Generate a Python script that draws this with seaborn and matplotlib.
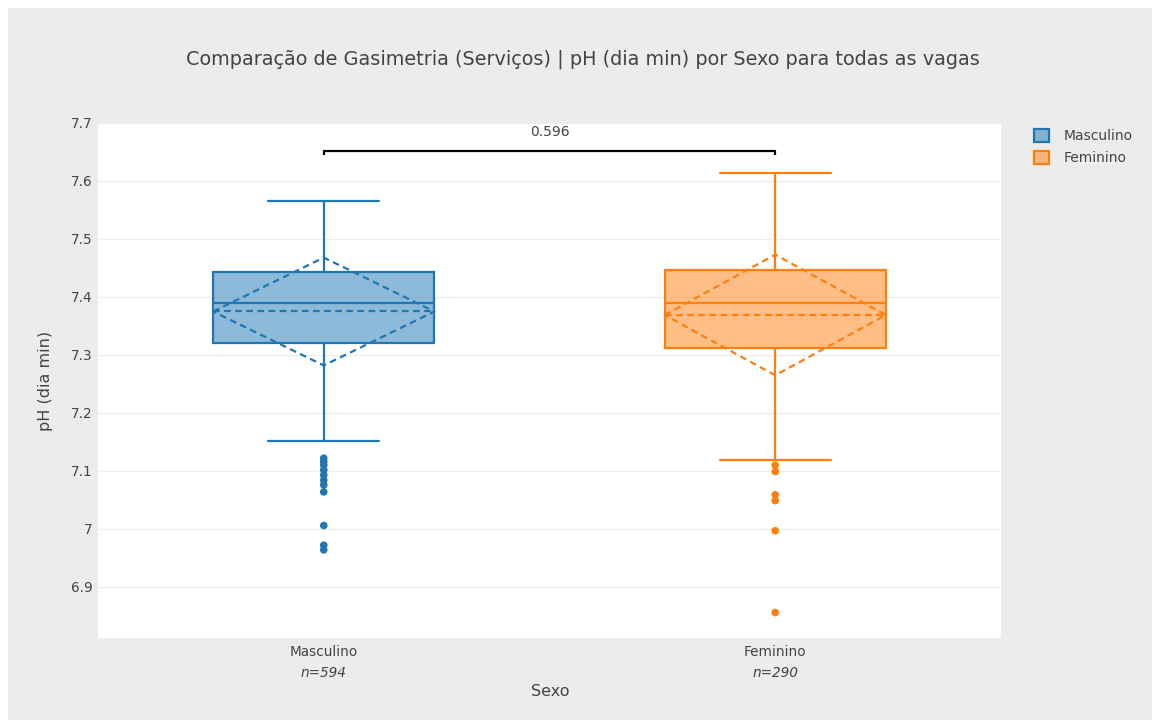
import numpy as np
import pandas as pd
import matplotlib
matplotlib.use("Agg")
import matplotlib.pyplot as plt
from matplotlib.patches import Patch, Rectangle
import seaborn as sns

# --- data -------------------------------------------------------------
categories = ["Masculino", "Feminino"]
counts = [594, 290]
colors = ["#1f77b4", "#ff7f0e"]

q1 = [7.320, 7.312]
median = [7.389, 7.389]
q3 = [7.443, 7.447]
whisker_low = [7.152, 7.119]
whisker_high = [7.566, 7.614]
mean = [7.375, 7.369]
sd = [0.093, 0.104]

outliers_masc = [7.122, 7.116, 7.110, 7.102, 7.093, 7.084, 7.076, 7.064,
                 7.006, 6.972, 6.964]
outliers_fem = [7.110, 7.099, 7.059, 7.049, 6.997, 6.856]

p_value_label = "0.596"
bracket_y = 7.652

title = "Comparação de Gasimetria (Serviços) | pH (dia min) por Sexo para todas as vagas"
y_label = "pH (dia min)"
x_label = "Sexo"
y_ticks = [6.9, 7.0, 7.1, 7.2, 7.3, 7.4, 7.5, 7.6, 7.7]
y_tick_labels = ["6.9", "7", "7.1", "7.2", "7.3", "7.4", "7.5", "7.6", "7.7"]

# --- figure -------------------------------------------------------------
sns.set_theme(style="white")
plt.rcParams["font.family"] = ["DejaVu Sans"]
text_color = "#444444"

W, H = 1152, 720
fig = plt.figure(figsize=(W / 100, H / 100), dpi=100, facecolor="white")
fig.patches.append(Rectangle((8 / W, 0), 1 - 8 / W, 1 - 8 / H,
                             transform=fig.transFigure, facecolor="#ececec",
                             edgecolor="none", zorder=-10))

left, right, top, bottom = 98, 1001, 123, 638
ax = fig.add_axes([left / W, 1 - bottom / H, (right - left) / W, (bottom - top) / H])
ax.set_facecolor("white")

box_width = 0.49
positions = np.arange(len(categories))

# boxes from summary statistics
stats = []
for i, cat in enumerate(categories):
    stats.append(dict(label=cat, q1=q1[i], med=median[i], q3=q3[i],
                      whislo=whisker_low[i], whishi=whisker_high[i],
                      mean=mean[i], fliers=[]))

for i, s in enumerate(stats):
    c = colors[i]
    ax.bxp([s], positions=[positions[i]], widths=box_width, patch_artist=True,
           showfliers=False, showmeans=False, capwidths=box_width / 2,
           boxprops=dict(facecolor=matplotlib.colors.to_rgba(c, 0.5), edgecolor=c, linewidth=1.6),
           medianprops=dict(color=c, linewidth=1.6),
           whiskerprops=dict(color=c, linewidth=1.6),
           capprops=dict(color=c, linewidth=1.6),
           manage_ticks=False)

    # mean ± sd diamond and mean line
    x0 = positions[i]
    hw = box_width / 2
    dx = [x0 - hw, x0, x0 + hw, x0, x0 - hw]
    dy = [mean[i], mean[i] + sd[i], mean[i], mean[i] - sd[i], mean[i]]
    ax.plot(dx, dy, color=c, linestyle=(0, (3, 2)), linewidth=1.6, zorder=4)
    ax.plot([x0 - hw, x0 + hw], [mean[i], mean[i]], color=c,
            linestyle=(0, (3, 2)), linewidth=1.6, zorder=4)

# outlier points
flier_df = pd.DataFrame({
    "Sexo": ["Masculino"] * len(outliers_masc) + ["Feminino"] * len(outliers_fem),
    "valor": outliers_masc + outliers_fem,
})
sns.stripplot(data=flier_df, x="Sexo", y="valor", hue="Sexo", order=categories,
              hue_order=categories, palette=colors, jitter=False, size=5.5,
              linewidth=0, legend=False, ax=ax, zorder=5)

# significance bracket
ax.plot([0, 0, 1, 1], [bracket_y - 0.007, bracket_y, bracket_y, bracket_y - 0.007],
        color="black", linewidth=1.6, solid_capstyle="butt", zorder=6)
ax.text(0.5, bracket_y + 0.021, p_value_label, ha="center", va="bottom",
        fontsize=10, color=text_color)

# axes styling
ax.set_xlim(-0.5, 1.5)
ax.set_ylim(7.7 - (bottom - top) / 580, 7.7)
ax.set_yticks(y_ticks)
ax.set_yticklabels(y_tick_labels)
ax.set_xticks(positions)
ax.set_xticklabels(categories)
ax.grid(axis="y", color="#eeeeee", linewidth=1)
ax.grid(axis="x", visible=False)
ax.set_axisbelow(True)
for sp in ax.spines.values():
    sp.set_visible(False)
ax.tick_params(axis="both", length=0, labelsize=9.8, colors=text_color, pad=5)
ax.tick_params(axis="y", pad=4)
ax.set_xlabel("")
ax.set_ylabel(y_label, fontsize=11.5, color=text_color, labelpad=13)

for i, n in enumerate(counts):
    ax.text(positions[i], -0.068, f"n={n}", transform=ax.get_xaxis_transform(),
            ha="center", va="center", fontsize=9.8, style="italic", color=text_color)
fig.text(550 / W, 1 - 691 / H, x_label, ha="center", va="center",
         fontsize=11.5, color=text_color)

fig.text(583 / W, 1 - 59 / H, title, ha="center", va="center",
         fontsize=13.9, color=text_color)

handles = [Patch(facecolor=matplotlib.colors.to_rgba(c, 0.5), edgecolor=c, linewidth=1.6)
           for c in colors]
fig.legend(handles, categories, loc="upper left",
           bbox_to_anchor=(1034 / W, 1 - 129 / H), frameon=False,
           fontsize=10, labelcolor=text_color, handlelength=1.05, handleheight=1.05,
           handletextpad=1.1, labelspacing=0.55, borderaxespad=0, borderpad=0)

fig.savefig("out.png", dpi=100, facecolor=fig.get_facecolor())
